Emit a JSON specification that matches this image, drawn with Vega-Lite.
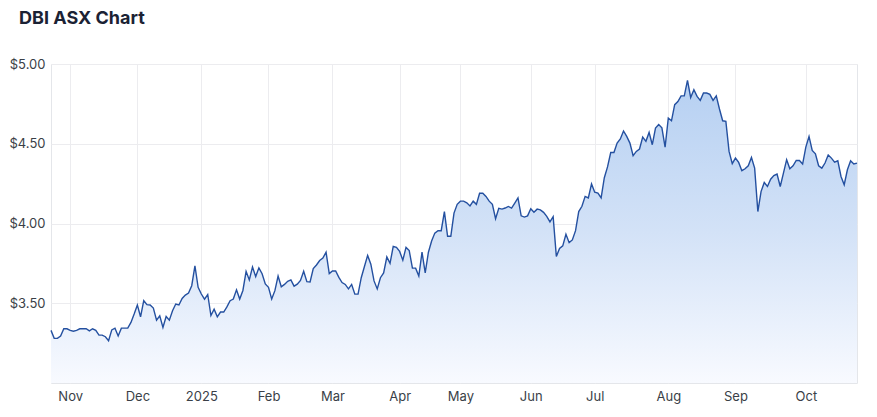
{
  "$schema": "https://vega.github.io/schema/vega-lite/v6.json",
  "width": 806,
  "height": 319,
  "autosize": {"type": "none"},
  "padding": {"left": 51, "top": 64, "right": 20, "bottom": 34},
  "background": "white",
  "title": {"text": "DBI ASX Chart", "anchor": "start", "frame": "group", "dx": -32, "offset": 30, "fontSize": 18, "font": "Inter", "fontWeight": 700, "color": "#1b2234"},
  "config": {
    "view": {"stroke": "#e4e6ea", "strokeWidth": 1},
    "axis": {"labelFont": "Inter", "labelFontSize": 13, "labelColor": "#3a3f47", "gridColor": "#ececef", "gridWidth": 1, "domain": false, "ticks": false}
  },
  "data": {"values": [
    {"date":"2024-10-24","price":3.33},{"date":"2024-10-25","price":3.28},{"date":"2024-10-28","price":3.28},{"date":"2024-10-29","price":3.295},{"date":"2024-10-30","price":3.34},{"date":"2024-10-31","price":3.34},
    {"date":"2024-11-01","price":3.33},{"date":"2024-11-04","price":3.325},{"date":"2024-11-05","price":3.33},{"date":"2024-11-06","price":3.34},{"date":"2024-11-07","price":3.34},{"date":"2024-11-08","price":3.34},{"date":"2024-11-11","price":3.327},{"date":"2024-11-12","price":3.34},{"date":"2024-11-13","price":3.33},{"date":"2024-11-14","price":3.30},{"date":"2024-11-15","price":3.30},{"date":"2024-11-18","price":3.29},{"date":"2024-11-19","price":3.265},{"date":"2024-11-20","price":3.333},{"date":"2024-11-21","price":3.344},{"date":"2024-11-22","price":3.295},{"date":"2024-11-25","price":3.344},{"date":"2024-11-26","price":3.344},{"date":"2024-11-27","price":3.344},{"date":"2024-11-28","price":3.38},{"date":"2024-11-29","price":3.432},
    {"date":"2024-12-02","price":3.489},{"date":"2024-12-03","price":3.415},{"date":"2024-12-04","price":3.516},{"date":"2024-12-05","price":3.491},{"date":"2024-12-06","price":3.489},{"date":"2024-12-09","price":3.47},{"date":"2024-12-10","price":3.394},{"date":"2024-12-11","price":3.421},{"date":"2024-12-12","price":3.348},{"date":"2024-12-13","price":3.417},{"date":"2024-12-16","price":3.394},{"date":"2024-12-17","price":3.453},{"date":"2024-12-18","price":3.495},{"date":"2024-12-19","price":3.489},{"date":"2024-12-20","price":3.53},{"date":"2024-12-23","price":3.551},{"date":"2024-12-24","price":3.564},{"date":"2024-12-27","price":3.61},{"date":"2024-12-30","price":3.735},{"date":"2024-12-31","price":3.60},
    {"date":"2025-01-02","price":3.558},{"date":"2025-01-03","price":3.526},{"date":"2025-01-06","price":3.555},{"date":"2025-01-07","price":3.423},{"date":"2025-01-08","price":3.463},{"date":"2025-01-09","price":3.415},{"date":"2025-01-10","price":3.445},{"date":"2025-01-13","price":3.445},{"date":"2025-01-14","price":3.477},{"date":"2025-01-15","price":3.516},{"date":"2025-01-16","price":3.526},{"date":"2025-01-17","price":3.584},{"date":"2025-01-20","price":3.526},{"date":"2025-01-21","price":3.58},{"date":"2025-01-22","price":3.70},{"date":"2025-01-23","price":3.646},{"date":"2025-01-24","price":3.727},{"date":"2025-01-28","price":3.667},{"date":"2025-01-29","price":3.722},{"date":"2025-01-30","price":3.685},{"date":"2025-01-31","price":3.621},
    {"date":"2025-02-03","price":3.60},{"date":"2025-02-04","price":3.526},{"date":"2025-02-05","price":3.579},{"date":"2025-02-06","price":3.67},{"date":"2025-02-07","price":3.603},{"date":"2025-02-10","price":3.618},{"date":"2025-02-11","price":3.638},{"date":"2025-02-12","price":3.646},{"date":"2025-02-13","price":3.607},{"date":"2025-02-14","price":3.62},{"date":"2025-02-17","price":3.643},{"date":"2025-02-18","price":3.70},{"date":"2025-02-19","price":3.635},{"date":"2025-02-20","price":3.633},{"date":"2025-02-21","price":3.717},{"date":"2025-02-24","price":3.74},{"date":"2025-02-25","price":3.768},{"date":"2025-02-26","price":3.783},{"date":"2025-02-27","price":3.82},{"date":"2025-02-28","price":3.686},
    {"date":"2025-03-03","price":3.702},{"date":"2025-03-04","price":3.702},{"date":"2025-03-05","price":3.662},{"date":"2025-03-06","price":3.63},{"date":"2025-03-07","price":3.618},{"date":"2025-03-10","price":3.59},{"date":"2025-03-11","price":3.618},{"date":"2025-03-12","price":3.557},{"date":"2025-03-13","price":3.557},{"date":"2025-03-14","price":3.66},{"date":"2025-03-17","price":3.73},{"date":"2025-03-18","price":3.80},{"date":"2025-03-19","price":3.745},{"date":"2025-03-20","price":3.64},{"date":"2025-03-21","price":3.59},{"date":"2025-03-24","price":3.66},{"date":"2025-03-25","price":3.69},{"date":"2025-03-26","price":3.79},{"date":"2025-03-27","price":3.75},{"date":"2025-03-28","price":3.856},{"date":"2025-03-31","price":3.85},
    {"date":"2025-04-01","price":3.825},{"date":"2025-04-02","price":3.77},{"date":"2025-04-03","price":3.85},{"date":"2025-04-04","price":3.83},{"date":"2025-04-07","price":3.72},{"date":"2025-04-08","price":3.72},{"date":"2025-04-09","price":3.67},{"date":"2025-04-10","price":3.82},{"date":"2025-04-11","price":3.69},{"date":"2025-04-14","price":3.82},{"date":"2025-04-15","price":3.89},{"date":"2025-04-16","price":3.94},{"date":"2025-04-17","price":3.955},{"date":"2025-04-22","price":3.955},{"date":"2025-04-23","price":4.075},{"date":"2025-04-24","price":3.92},{"date":"2025-04-28","price":3.92},{"date":"2025-04-29","price":4.065},{"date":"2025-04-30","price":4.12},
    {"date":"2025-05-01","price":4.14},{"date":"2025-05-02","price":4.14},{"date":"2025-05-05","price":4.13},{"date":"2025-05-06","price":4.11},{"date":"2025-05-07","price":4.14},{"date":"2025-05-08","price":4.12},{"date":"2025-05-09","price":4.19},{"date":"2025-05-12","price":4.19},{"date":"2025-05-13","price":4.17},{"date":"2025-05-14","price":4.14},{"date":"2025-05-15","price":4.12},{"date":"2025-05-16","price":4.03},{"date":"2025-05-19","price":4.095},{"date":"2025-05-20","price":4.09},{"date":"2025-05-21","price":4.097},{"date":"2025-05-22","price":4.107},{"date":"2025-05-23","price":4.097},{"date":"2025-05-26","price":4.128},{"date":"2025-05-27","price":4.16},{"date":"2025-05-28","price":4.048},{"date":"2025-05-29","price":4.04},{"date":"2025-05-30","price":4.048},
    {"date":"2025-06-02","price":4.093},{"date":"2025-06-03","price":4.07},{"date":"2025-06-04","price":4.09},{"date":"2025-06-05","price":4.085},{"date":"2025-06-06","price":4.07},{"date":"2025-06-10","price":4.045},{"date":"2025-06-11","price":4.01},{"date":"2025-06-12","price":4.043},{"date":"2025-06-13","price":3.793},{"date":"2025-06-16","price":3.843},{"date":"2025-06-17","price":3.86},{"date":"2025-06-18","price":3.932},{"date":"2025-06-19","price":3.88},{"date":"2025-06-20","price":3.897},{"date":"2025-06-23","price":3.955},{"date":"2025-06-24","price":4.075},{"date":"2025-06-25","price":4.108},{"date":"2025-06-26","price":4.17},{"date":"2025-06-27","price":4.16},{"date":"2025-06-30","price":4.248},
    {"date":"2025-07-01","price":4.196},{"date":"2025-07-02","price":4.19},{"date":"2025-07-03","price":4.16},{"date":"2025-07-04","price":4.287},{"date":"2025-07-07","price":4.355},{"date":"2025-07-08","price":4.445},{"date":"2025-07-09","price":4.445},{"date":"2025-07-10","price":4.504},{"date":"2025-07-11","price":4.53},{"date":"2025-07-14","price":4.58},{"date":"2025-07-15","price":4.546},{"date":"2025-07-16","price":4.504},{"date":"2025-07-17","price":4.425},{"date":"2025-07-18","price":4.452},{"date":"2025-07-21","price":4.467},{"date":"2025-07-22","price":4.542},{"date":"2025-07-23","price":4.515},{"date":"2025-07-24","price":4.571},{"date":"2025-07-25","price":4.494},{"date":"2025-07-28","price":4.598},{"date":"2025-07-29","price":4.62},{"date":"2025-07-30","price":4.60},{"date":"2025-07-31","price":4.479},
    {"date":"2025-08-01","price":4.661},{"date":"2025-08-04","price":4.644},{"date":"2025-08-05","price":4.745},{"date":"2025-08-06","price":4.765},{"date":"2025-08-07","price":4.80},{"date":"2025-08-08","price":4.80},{"date":"2025-08-11","price":4.897},{"date":"2025-08-12","price":4.79},{"date":"2025-08-13","price":4.839},{"date":"2025-08-14","price":4.797},{"date":"2025-08-15","price":4.772},{"date":"2025-08-18","price":4.818},{"date":"2025-08-19","price":4.818},{"date":"2025-08-20","price":4.81},{"date":"2025-08-21","price":4.772},{"date":"2025-08-22","price":4.80},{"date":"2025-08-25","price":4.718},{"date":"2025-08-26","price":4.644},{"date":"2025-08-27","price":4.64},{"date":"2025-08-28","price":4.452},{"date":"2025-08-29","price":4.375},
    {"date":"2025-09-01","price":4.41},{"date":"2025-09-02","price":4.383},{"date":"2025-09-03","price":4.331},{"date":"2025-09-04","price":4.343},{"date":"2025-09-05","price":4.362},{"date":"2025-09-08","price":4.414},{"date":"2025-09-09","price":4.347},{"date":"2025-09-10","price":4.075},{"date":"2025-09-11","price":4.20},{"date":"2025-09-12","price":4.257},{"date":"2025-09-15","price":4.232},{"date":"2025-09-16","price":4.278},{"date":"2025-09-17","price":4.30},{"date":"2025-09-18","price":4.31},{"date":"2025-09-19","price":4.232},{"date":"2025-09-22","price":4.316},{"date":"2025-09-23","price":4.40},{"date":"2025-09-24","price":4.343},{"date":"2025-09-25","price":4.362},{"date":"2025-09-26","price":4.395},{"date":"2025-09-29","price":4.395},{"date":"2025-09-30","price":4.373},
    {"date":"2025-10-01","price":4.479},{"date":"2025-10-02","price":4.546},{"date":"2025-10-03","price":4.458},{"date":"2025-10-06","price":4.437},{"date":"2025-10-07","price":4.362},{"date":"2025-10-08","price":4.347},{"date":"2025-10-09","price":4.379},{"date":"2025-10-10","price":4.43},{"date":"2025-10-13","price":4.41},{"date":"2025-10-14","price":4.385},{"date":"2025-10-15","price":4.393},{"date":"2025-10-16","price":4.295},{"date":"2025-10-17","price":4.243},{"date":"2025-10-20","price":4.337},{"date":"2025-10-21","price":4.393},{"date":"2025-10-22","price":4.373},{"date":"2025-10-23","price":4.379}
  ]},
  "encoding": {
    "x": {
      "field": "date", "type": "ordinal", "sort": "ascending",
      "scale": {"type": "point", "padding": 0},
      "axis": {
        "title": null, "labelAngle": 0, "labelPadding": 7, "grid": true,
        "values": ["2024-11-01","2024-12-02","2025-01-02","2025-02-03","2025-03-03","2025-04-01","2025-05-01","2025-06-02","2025-07-01","2025-08-01","2025-09-01","2025-10-01"],
        "labelExpr": "datum.value == '2025-01-02' ? '2025' : utcFormat(toDate(datum.value), '%b')"
      }
    },
    "y": {
      "field": "price", "type": "quantitative",
      "scale": {"domain": [3, 5], "nice": false, "zero": false},
      "axis": {"title": null, "values": [3.5, 4, 4.5, 5], "format": "$.2f", "labelPadding": 6}
    }
  },
  "layer": [
    {
      "mark": {
        "type": "area",
        "fill": {
          "gradient": "linear", "x1": 0, "y1": 0, "x2": 0, "y2": 1,
          "stops": [
            {"offset": 0, "color": "#b6d0f2"},
            {"offset": 0.5, "color": "#d3e2f7"},
            {"offset": 1, "color": "#f8faff"}
          ]
        }
      },
      "encoding": {"y2": {"datum": 3}}
    },
    {
      "mark": {"type": "line", "color": "#2450a0", "strokeWidth": 1.4}
    }
  ]
}
